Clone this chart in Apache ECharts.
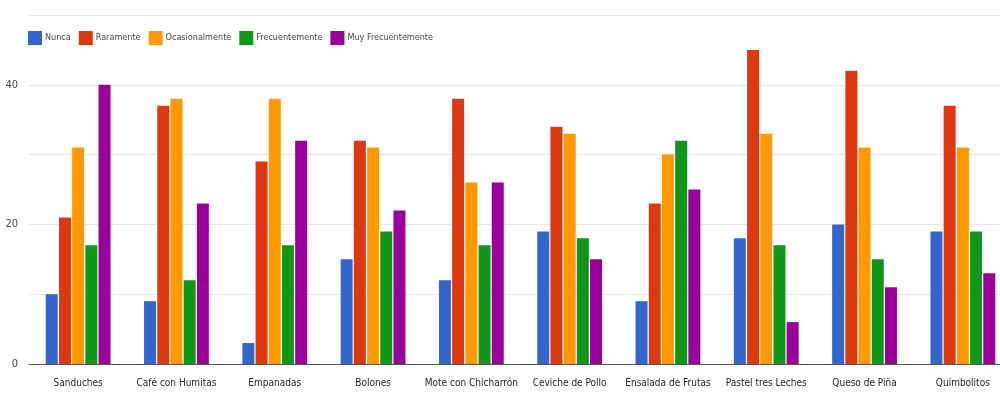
<!DOCTYPE html>
<html>
<head>
<meta charset="utf-8">
<style>
  html, body { margin: 0; padding: 0; background: #fff; overflow: hidden; }
  /* the original chart is cut off at the right edge, so the canvas runs a bit past the window */
  #chart { width: 1012px; height: 399px; }
</style>
<script src="https://cdn.jsdelivr.net/npm/echarts@6/dist/echarts.min.js"></script>
</head>
<body>
<div id="chart"></div>
<script>
  const FONT = '"DejaVu Sans Condensed", "Liberation Sans Narrow", sans-serif'

  const categories = [
    'Sanduches', 'Café con Humitas', 'Empanadas', 'Bolones', 'Mote con Chicharrón',
    'Ceviche de Pollo', 'Ensalada de Frutas', 'Pastel tres Leches', 'Queso de Piña', 'Quimbolitos'
  ]
  const seriesNames = ['Nunca', 'Raramente', 'Ocasionalmente', 'Frecuentemente', 'Muy Frecuentemente']
  const colors = ['#3366cc', '#dc3912', '#ff9900', '#109618', '#990099']

  const nunca = [10, 9, 3, 15, 12, 19, 9, 18, 20, 19]
  const raramente = [21, 37, 29, 32, 38, 34, 23, 45, 42, 37]
  const ocasionalmente = [31, 38, 38, 31, 26, 33, 30, 33, 31, 31]
  const frecuentemente = [17, 12, 17, 19, 17, 18, 32, 17, 15, 19]
  const muyFrecuentemente = [40, 23, 32, 22, 26, 15, 25, 6, 11, 13]

  const yLabels = [0, 20, 40]

  const values = [nunca, raramente, ocasionalmente, frecuentemente, muyFrecuentemente]

  const chart = echarts.init(document.getElementById('chart'))

  chart.setOption({
    animation: false,
    color: colors,
    textStyle: { fontFamily: FONT },
    legend: {
      left: 28,
      top: 31,
      padding: 0,
      icon: 'rect',
      itemWidth: 14,
      itemHeight: 14,
      itemGap: 8,
      textStyle: { fontFamily: FONT, fontSize: 9, color: '#444', padding: [0, 0, 0, -2] },
      data: seriesNames
    },
    grid: { left: 29, top: 15, bottom: 35, right: 0 },
    xAxis: {
      type: 'category',
      data: categories,
      axisTick: { show: false },
      axisLine: { lineStyle: { color: '#555', width: 1 } },
      axisLabel: { fontFamily: FONT, fontSize: 10, color: '#222', margin: 14, interval: 0 }
    },
    yAxis: {
      type: 'value',
      min: 0,
      max: 50,
      interval: 10,
      axisLine: { show: false },
      axisTick: { show: false },
      splitLine: { lineStyle: { color: '#e8e8e8' } },
      axisLabel: {
        fontFamily: FONT,
        fontSize: 11,
        color: '#444',
        margin: 11,
        formatter: v => (yLabels.includes(v) ? String(v) : '')
      }
    },
    series: seriesNames.map((name, i) => ({
      name,
      type: 'bar',
      data: values[i],
      barWidth: 12,
      barGap: '10%'
    }))
  })
</script>
</body>
</html>
